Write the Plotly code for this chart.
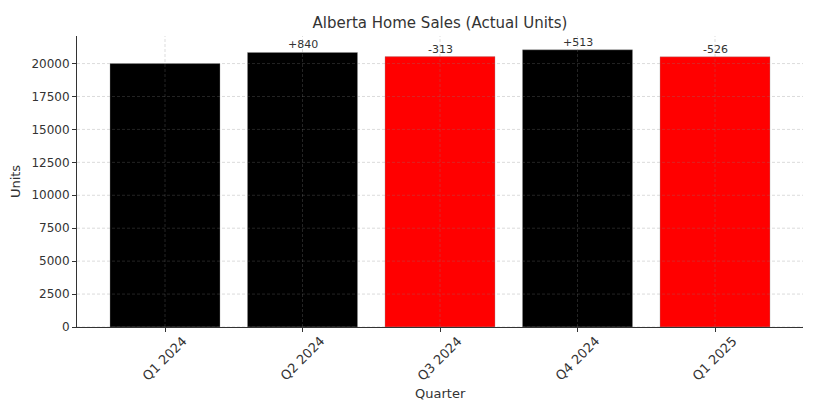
import plotly.graph_objects as go

quarters = ["Q1 2024", "Q2 2024", "Q3 2024", "Q4 2024", "Q1 2025"]
units = [20000, 20840, 20527, 21040, 20514]
yticks = [0, 2500, 5000, 7500, 10000, 12500, 15000, 17500, 20000]

# change vs previous quarter
changes = [None] + [units[i] - units[i - 1] for i in range(1, len(units))]
labels = ["" if c is None else f"{c:+d}" for c in changes]
colors = ["red" if (c is not None and c < 0) else "black" for c in changes]

fig = go.Figure()
fig.add_trace(
    go.Bar(
        x=quarters,
        y=units,
        width=0.8,
        marker={"color": colors, "line": {"color": "rgba(150,150,150,0.6)", "width": 0.6}},
    )
)

# change labels sitting right on top of the bars
for q, u, lab in zip(quarters, units, labels):
    if lab:
        fig.add_annotation(
            x=q, y=u, text=lab, showarrow=False,
            xanchor="center", yanchor="bottom", yshift=-1,
            font={"size": 11, "color": "#333333"},
        )

grid = {"color": "rgba(128,128,128,0.4)", "width": 0.7, "dash": "3px,2px"}
for t in yticks:
    fig.add_hline(y=t, line=grid, layer="above")
for q in quarters:
    fig.add_vline(x=q, line=grid, layer="above")

# rotated tick labels centred on the ticks (matplotlib style)
for q in quarters:
    fig.add_annotation(
        x=q, xref="x", y=0, yref="paper",
        text=q, textangle=-45, showarrow=False,
        xanchor="center", yanchor="top", yshift=-4,
        font={"size": 13, "color": "#333333"},
    )
fig.add_annotation(
    x=0.5, xref="x domain", y=0, yref="paper",
    text="Quarter", showarrow=False,
    xanchor="center", yanchor="middle", yshift=-66,
    font={"size": 13, "color": "#333333"},
)

# page body adds an 8px margin, so the figure is slightly smaller
W, H = 819, 392
fig.update_layout(
    width=W,
    height=H,
    margin={"l": 69, "r": 24, "t": 28, "b": 73},
    plot_bgcolor="white",
    paper_bgcolor="white",
    showlegend=False,
    font={"family": "DejaVu Sans", "size": 12, "color": "#333333"},
    title={
        "text": "Alberta Home Sales (Actual Units)",
        "x": (69 + (W - 69 - 24) / 2) / W,
        "xanchor": "center",
        "y": 1 - 15 / H,
        "yanchor": "middle",
        "font": {"size": 15, "color": "#333333"},
    },
)
fig.update_xaxes(
    range=[-0.64, 4.64],
    showticklabels=False,
    ticks="outside",
    ticklen=4,
    tickcolor="#333333",
    showline=True,
    linecolor="#333333",
    linewidth=1,
    showgrid=False,
    automargin=False,
)
fig.update_yaxes(
    title={"text": "Units", "font": {"size": 13}, "standoff": 7},
    range=[0, 22092],
    tickvals=yticks,
    ticktext=[str(t) for t in yticks],
    ticks="outside",
    ticklen=4,
    tickcolor="#333333",
    showline=True,
    linecolor="#333333",
    linewidth=1,
    showgrid=False,
    zeroline=False,
    tickfont={"size": 12},
    automargin=False,
)

fig.write_html("out.html")
